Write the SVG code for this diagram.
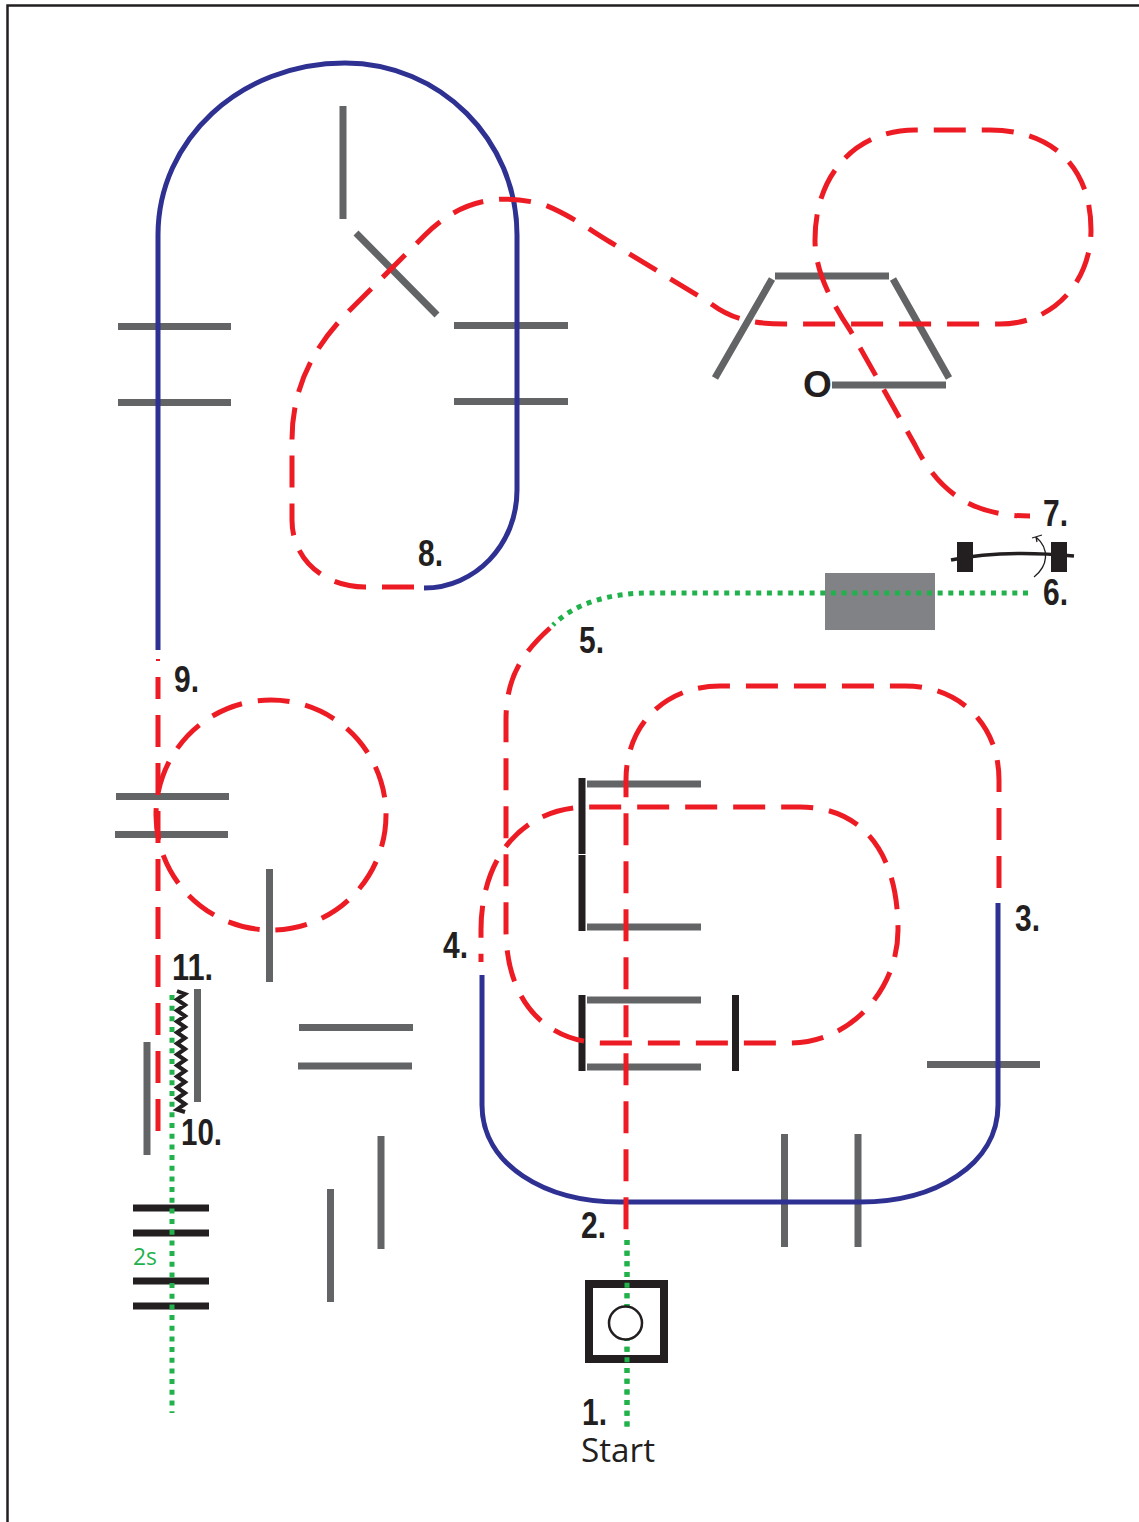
<svg xmlns="http://www.w3.org/2000/svg" width="1139" height="1522" viewBox="0 0 1139 1522">
<style>
.r{fill:none;stroke:#ed1c24;stroke-width:5;stroke-dasharray:32 16}
.b{fill:none;stroke:#2e3192;stroke-width:5}
.g{fill:none;stroke:#22b24c;stroke-width:5;stroke-dasharray:5 5.67}
.w{fill:none;stroke:#636466;stroke-width:7}
.k{fill:none;stroke:#231f20;stroke-width:7}
.t{font-family:"Liberation Sans",Arial,sans-serif;font-weight:700;font-size:36px;fill:#231f20}
</style>
<rect width="1139" height="1522" fill="#fff"/>
<path d="M7.500 1522V5.500H1139" fill="none" stroke="#231f20" stroke-width="2.500"/>
<g id="obstacles">
<path class="w" d="M343 106V219M356 233L437 315M118 326.500H231M118 402.500H231M454 325.500H568M454 401.500H568M775 276H889M772 279L715 378M893 279L949 378M832 385H946M116 796.500H229M115 834.500H228M269.500 869V982M197.500 989V1102M147 1042V1155M299 1027.500H413M298 1066H412M381 1136V1249M330.500 1189V1302M784.500 1134V1247M858 1134V1247M927 1064.500H1040M587 784H701M587 927H701M587 1000H701M587 1067H701"/>
<path class="k" d="M582 778V854M582 855V931M582 995V1071M735.500 995V1071M133 1208H209M133 1233H209M133 1281H209M133 1306H209"/>
<rect x="825" y="573" width="110" height="57" fill="#808285"/>
<rect x="957" y="542" width="16" height="30" fill="#231f20"/>
<rect x="1051" y="542" width="16" height="30" fill="#231f20"/>
<path d="M951 560C985 553 1030 552 1074 556" fill="none" stroke="#231f20" stroke-width="3.500"/>
<path d="M1034 577C1048 566 1050 549 1036 537M1032 538L1042 535M1036 537L1037 542" fill="none" stroke="#231f20" stroke-width="1.300"/>
</g>
<g id="connectors">
<path class="b" d="M158 650V235C158 140 240 63 345 63C440 63 517 140 517 235V490C517 545 475 588 424 588"/>
<path class="r" d="M414 587H365C325 587 292 560 292 520V440C292 380 320 340 350 310L425 235C460 200 500 192 545 205C570 215 590 230 610 242L710 303C730 318 750 324 785 324H1000C1055 324 1091 280 1091 230C1091 165 1050 130 990 130H915C860 130 815 170 815 240C815 270 830 300 850 330L915 445C940 495 975 516 1030 516"/>
<path class="g" d="M1028 593H650C610 593 575 603 553 625"/>
<path class="r" d="M550 628C520 655 506 680 506 720V930C506 1000 545 1043 605 1043H790C850 1043 898 990 898 930C898 850 860 807 800 807H590C520 807 481 860 481 930V962"/>
<path class="b" d="M482 975V1105C482 1165 545 1202 620 1202H860C935 1202 998 1165 998 1105V903"/>
<path class="r" d="M999 888V780C999 725 960 686 905 686H720C665 686 626 725 626 780V1235"/>
<path class="g" d="M627 1240V1427"/>
<path d="M156 660H160" stroke="#ed1c24" stroke-width="2" fill="none"/>
<path class="r" d="M158 677V1145" stroke-dashoffset="10"/>
<circle class="r" cx="271" cy="815" r="115"/>
<path class="g" d="M172 995V1413"/>
</g>
<g id="station">
<path d="M589 1284H664V1359H589Z" fill="none" stroke="#231f20" stroke-width="8"/>
<path class="g" d="M627 1240V1427"/>
<circle cx="625.500" cy="1323" r="16.500" fill="#fff" stroke="#231f20" stroke-width="2.500"/>
</g>
<g id="spring">
<path d="M177 991L185 994L177 999.500L185 1005L177 1010.500L185 1016L177 1021.500L185 1027L177 1032.500L185 1038L177 1043.500L185 1049L177 1054.500L185 1060L177 1065.500L185 1071L177 1076.500L185 1082L177 1087.500L185 1093L177 1098.500L185 1104L177 1109.500L185 1112" fill="none" stroke="#231f20" stroke-width="4"/>
</g>
<g id="labels">
<text class="t" x="1043" y="526" textLength="25" lengthAdjust="spacingAndGlyphs">7.</text>
<text class="t" x="1043" y="605" textLength="25" lengthAdjust="spacingAndGlyphs">6.</text>
<text class="t" x="418" y="566" textLength="25" lengthAdjust="spacingAndGlyphs">8.</text>
<text class="t" x="579" y="653" textLength="25" lengthAdjust="spacingAndGlyphs">5.</text>
<text class="t" x="174" y="692" textLength="25" lengthAdjust="spacingAndGlyphs">9.</text>
<text class="t" x="1015" y="931" textLength="25" lengthAdjust="spacingAndGlyphs">3.</text>
<text class="t" x="443" y="958" textLength="25" lengthAdjust="spacingAndGlyphs">4.</text>
<text class="t" x="172" y="980" textLength="41" lengthAdjust="spacingAndGlyphs">11.</text>
<text class="t" x="181" y="1145" textLength="41" lengthAdjust="spacingAndGlyphs">10.</text>
<text class="t" x="581" y="1238" textLength="25" lengthAdjust="spacingAndGlyphs">2.</text>
<text class="t" x="582" y="1425" textLength="25" lengthAdjust="spacingAndGlyphs">1.</text>
<text x="581" y="1462" font-family="'Open Sans','Noto Sans',sans-serif" font-size="33" fill="#231f20" textLength="74" lengthAdjust="spacingAndGlyphs">Start</text>
<text x="133" y="1265" font-family="'Open Sans','Noto Sans',sans-serif" font-size="24" fill="#22b24c" textLength="24" lengthAdjust="spacingAndGlyphs">2s</text>
<text x="803" y="397" font-family="'Liberation Sans',Arial,sans-serif" font-weight="700" font-size="37" fill="#231f20">O</text>
</g>
</svg>
